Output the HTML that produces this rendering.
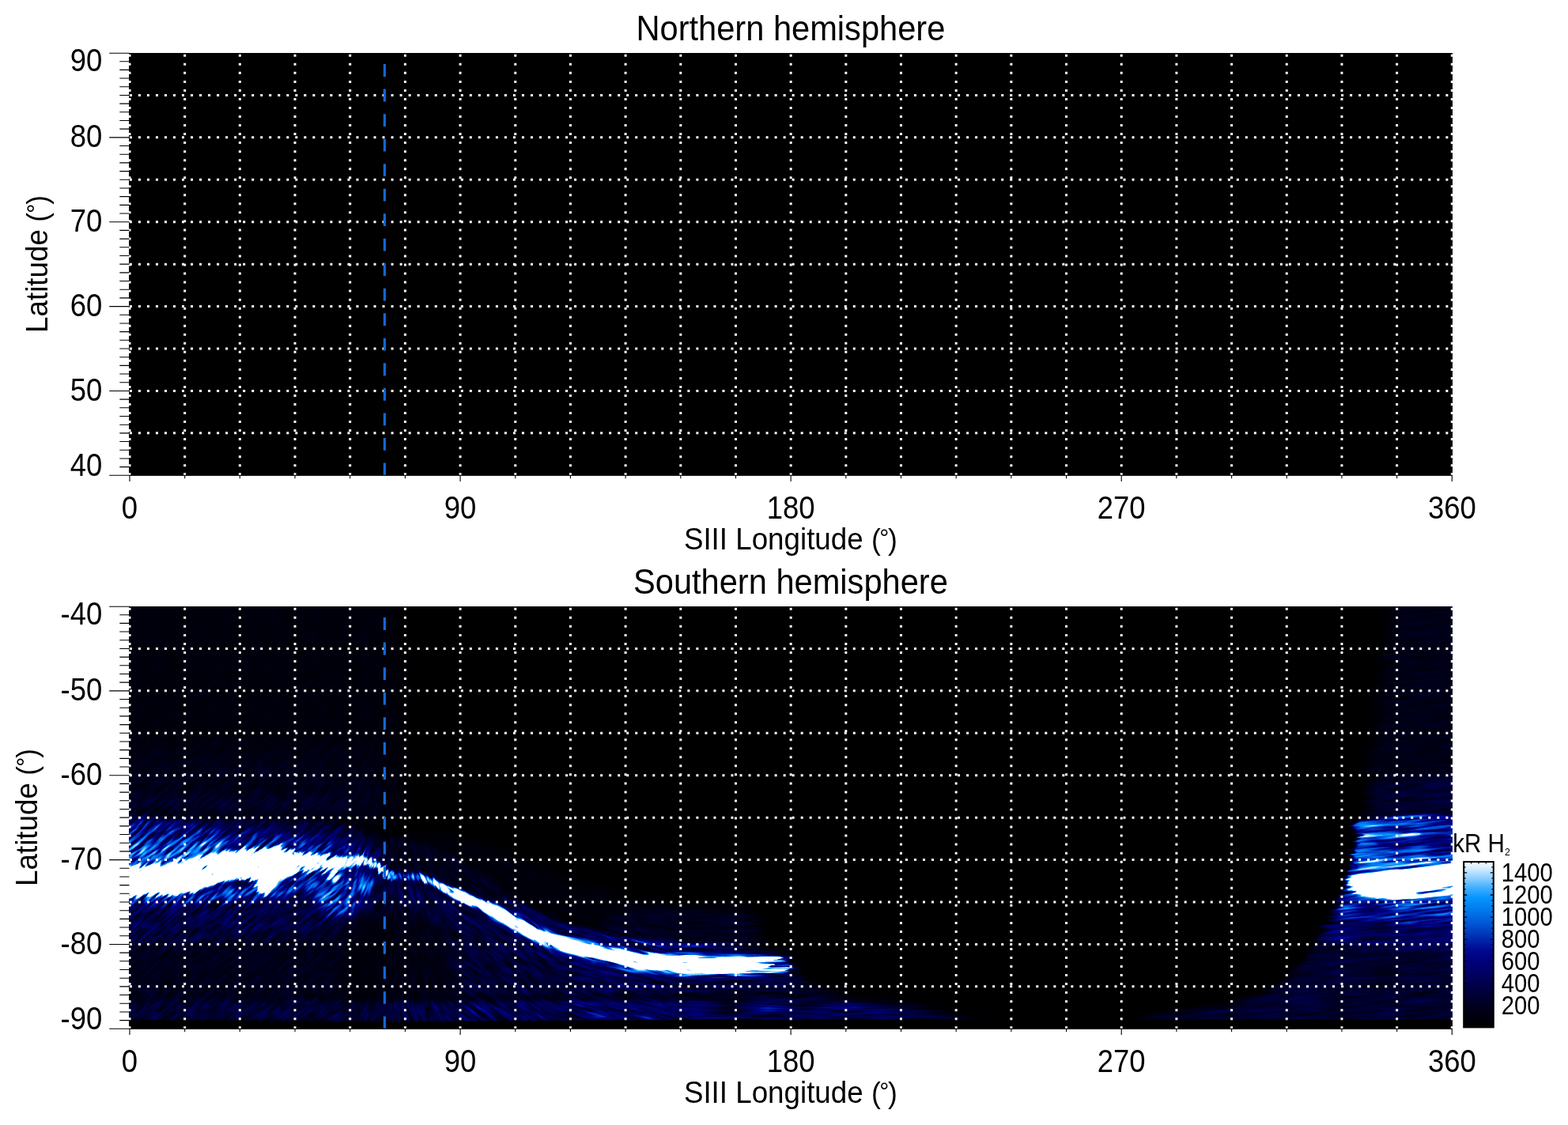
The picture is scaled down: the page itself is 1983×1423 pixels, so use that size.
<!DOCTYPE html>
<html lang="en"><head><meta charset="utf-8"><title>Northern hemisphere / Southern hemisphere</title>
<style>html,body{margin:0;padding:0;background:#fff;}body{width:1983px;height:1423px;overflow:hidden;}svg{display:block;}text{font-family:"Liberation Sans", sans-serif;fill:#000;}</style>
</head><body>
<svg width="1983" height="1423" viewBox="0 0 1983 1423">
<rect x="0" y="0" width="1983" height="1423" fill="#fff"/>
<g id="north">
<rect x="163" y="67.00" width="1674" height="534.50" fill="#000"/>
<path d="M163.9 120.43H1837M163.9 173.86H1837M163.9 227.29H1837M163.9 280.72H1837M163.9 334.15H1837M163.9 387.58H1837M163.9 441.01H1837M163.9 494.44H1837M163.9 547.87H1837" stroke="#fff" stroke-width="3" stroke-dasharray="3 8.023" fill="none"/>
<clipPath id="cp0"><rect x="163" y="67.00" width="1674" height="534.30"/></clipPath>
<path clip-path="url(#cp0)" d="M164.00 68.80V601.30M233.68 68.80V601.30M303.36 68.80V601.30M373.04 68.80V601.30M442.72 68.80V601.30M512.40 68.80V601.30M582.08 68.80V601.30M651.75 68.80V601.30M721.43 68.80V601.30M791.11 68.80V601.30M860.79 68.80V601.30M930.47 68.80V601.30M1000.15 68.80V601.30M1069.83 68.80V601.30M1139.51 68.80V601.30M1209.19 68.80V601.30M1278.87 68.80V601.30M1348.55 68.80V601.30M1418.22 68.80V601.30M1487.90 68.80V601.30M1557.58 68.80V601.30M1627.26 68.80V601.30M1696.94 68.80V601.30M1766.62 68.80V601.30M1836.30 68.80V601.30" stroke="#fff" stroke-width="3" stroke-dasharray="3 8.03" fill="none"/>
<path d="M486.4 81.10V601.30" stroke="#1266d6" stroke-width="3.2" stroke-dasharray="15.8 15.72" fill="none"/>
<path d="M138.2 601.30H1837M138.2 67.30H163.5M151.3 77.69H163.5M151.3 88.37H163.5M151.3 99.06H163.5M151.3 109.74H163.5M151.3 120.43H163.5M151.3 131.12H163.5M151.3 141.80H163.5M151.3 152.49H163.5M151.3 163.17H163.5M138.2 173.86H163.5M151.3 184.55H163.5M151.3 195.23H163.5M151.3 205.92H163.5M151.3 216.60H163.5M151.3 227.29H163.5M151.3 237.98H163.5M151.3 248.66H163.5M151.3 259.35H163.5M151.3 270.03H163.5M138.2 280.72H163.5M151.3 291.41H163.5M151.3 302.09H163.5M151.3 312.78H163.5M151.3 323.46H163.5M151.3 334.15H163.5M151.3 344.84H163.5M151.3 355.52H163.5M151.3 366.21H163.5M151.3 376.89H163.5M138.2 387.58H163.5M151.3 398.27H163.5M151.3 408.95H163.5M151.3 419.64H163.5M151.3 430.32H163.5M151.3 441.01H163.5M151.3 451.70H163.5M151.3 462.38H163.5M151.3 473.07H163.5M151.3 483.75H163.5M138.2 494.44H163.5M151.3 505.13H163.5M151.3 515.81H163.5M151.3 526.50H163.5M151.3 537.18H163.5M151.3 547.87H163.5M151.3 558.56H163.5M151.3 569.24H163.5M151.3 579.93H163.5M151.3 590.61H163.5M164.00 601.30V609.00M233.68 601.30V605.30M303.36 601.30V605.30M373.04 601.30V605.30M442.72 601.30V605.30M512.40 601.30V605.30M582.08 601.30V609.00M651.75 601.30V605.30M721.43 601.30V605.30M791.11 601.30V605.30M860.79 601.30V605.30M930.47 601.30V605.30M1000.15 601.30V609.00M1069.83 601.30V605.30M1139.51 601.30V605.30M1209.19 601.30V605.30M1278.87 601.30V605.30M1348.55 601.30V605.30M1418.22 601.30V609.00M1487.90 601.30V605.30M1557.58 601.30V605.30M1627.26 601.30V605.30M1696.94 601.30V605.30M1766.62 601.30V605.30M1836.30 601.30V609.00" stroke="#000" stroke-width="1.1" fill="none"/>
<text transform="translate(999.90 51.00) scale(0.9525 1)" font-size="43.7" text-anchor="middle">Northern hemisphere</text>
<text transform="translate(129.30 89.60) scale(0.9120 1)" font-size="40.0" text-anchor="end">90</text>
<text transform="translate(129.30 186.46) scale(0.9120 1)" font-size="40.0" text-anchor="end">80</text>
<text transform="translate(129.30 293.32) scale(0.9120 1)" font-size="40.0" text-anchor="end">70</text>
<text transform="translate(129.30 400.18) scale(0.9120 1)" font-size="40.0" text-anchor="end">60</text>
<text transform="translate(129.30 507.04) scale(0.9120 1)" font-size="40.0" text-anchor="end">50</text>
<text transform="translate(129.30 601.50) scale(0.9120 1)" font-size="40.0" text-anchor="end">40</text>
<text transform="translate(164.00 656.30) scale(0.9120 1)" font-size="40.0" text-anchor="middle">0</text>
<text transform="translate(582.08 656.30) scale(0.9120 1)" font-size="40.0" text-anchor="middle">90</text>
<text transform="translate(1000.15 656.30) scale(0.9120 1)" font-size="40.0" text-anchor="middle">180</text>
<text transform="translate(1418.22 656.30) scale(0.9120 1)" font-size="40.0" text-anchor="middle">270</text>
<text transform="translate(1836.30 656.30) scale(0.9120 1)" font-size="40.0" text-anchor="middle">360</text>
<text transform="translate(864.90 695.30) scale(0.9400 1)" font-size="39.1">SIII Longitude <tspan x="252.31" font-size="37.8">(</tspan><tspan x="263.19" dy="-3.9" font-size="32.0">°</tspan><tspan x="274.63" dy="3.9" font-size="37.8">)</tspan></text>
<text transform="translate(60.10 420.90) rotate(-90) scale(0.9400 1)" font-size="39.1">Latitude <tspan x="149.22" font-size="37.8">(</tspan><tspan x="160.85" dy="-3.9" font-size="32.0">°</tspan><tspan x="172.39" dy="3.9" font-size="37.8">)</tspan></text>
</g>
<g id="south">
<rect x="163" y="767.00" width="1674" height="534.50" fill="#000"/>
<defs>
<filter id="cmap" filterUnits="userSpaceOnUse" x="163" y="767" width="1674" height="534.5" color-interpolation-filters="sRGB">
<feComponentTransfer><feFuncR type="table" tableValues="0 0 0 0 0 0 0 0 0 0 0 0 0 0 0 0 0.04 0.29 0.55 0.78 1"/><feFuncG type="table" tableValues="0 0 0 0 0 0 0 0 0 0.03 0.11 0.19 0.28 0.37 0.46 0.54 0.6 0.7 0.81 0.91 1"/><feFuncB type="table" tableValues="0 0.05 0.094 0.15 0.21 0.28 0.35 0.42 0.49 0.56 0.64 0.72 0.8 0.88 0.94 0.98 1 1 1 1 1"/></feComponentTransfer>
</filter>
<clipPath id="cpA"><rect x="163" y="767" width="1674" height="534.5"/></clipPath>
<filter id="q1" filterUnits="userSpaceOnUse" x="118" y="728" width="429" height="338" color-interpolation-filters="sRGB"><feGaussianBlur stdDeviation="10"/></filter>
<filter id="q2" filterUnits="userSpaceOnUse" x="106" y="906" width="433" height="174" color-interpolation-filters="sRGB"><feGaussianBlur stdDeviation="14"/></filter>
<filter id="q3" filterUnits="userSpaceOnUse" x="124" y="979" width="387" height="83" color-interpolation-filters="sRGB"><feGaussianBlur stdDeviation="8"/></filter>
<filter id="q4" filterUnits="userSpaceOnUse" x="1702" y="734" width="174" height="326" color-interpolation-filters="sRGB"><feGaussianBlur stdDeviation="8"/></filter>
<filter id="q5" filterUnits="userSpaceOnUse" x="1706" y="960" width="164" height="94" color-interpolation-filters="sRGB"><feGaussianBlur stdDeviation="6"/></filter>
<filter id="q6" filterUnits="userSpaceOnUse" x="73" y="991" width="1306" height="344" color-interpolation-filters="sRGB"><feGaussianBlur stdDeviation="3"/></filter>
<filter id="q7" filterUnits="userSpaceOnUse" x="104" y="1084" width="465" height="140" color-interpolation-filters="sRGB"><feGaussianBlur stdDeviation="8"/></filter>
<filter id="q8" filterUnits="userSpaceOnUse" x="400" y="1071" width="945" height="268" color-interpolation-filters="sRGB"><feGaussianBlur stdDeviation="8"/></filter>
<filter id="q9" filterUnits="userSpaceOnUse" x="535" y="1112" width="510" height="161" color-interpolation-filters="sRGB"><feGaussianBlur stdDeviation="5"/></filter>
<filter id="q10" filterUnits="userSpaceOnUse" x="740" y="1123" width="252" height="104" color-interpolation-filters="sRGB"><feGaussianBlur stdDeviation="6"/></filter>
<filter id="q11" filterUnits="userSpaceOnUse" x="661" y="1211" width="642" height="100" color-interpolation-filters="sRGB"><feGaussianBlur stdDeviation="4"/></filter>
<filter id="qv" filterUnits="userSpaceOnUse" x="380" y="1090" width="250" height="220" color-interpolation-filters="sRGB"><feGaussianBlur stdDeviation="12"/></filter>
<filter id="qe" filterUnits="userSpaceOnUse" x="380" y="1240" width="740" height="40" color-interpolation-filters="sRGB"><feGaussianBlur stdDeviation="2.5"/></filter>
<filter id="q12" filterUnits="userSpaceOnUse" x="142" y="1258" width="1091" height="40" color-interpolation-filters="sRGB"><feGaussianBlur stdDeviation="2"/></filter>
<filter id="q13" filterUnits="userSpaceOnUse" x="474" y="1029" width="515" height="202" color-interpolation-filters="sRGB"><feGaussianBlur stdDeviation="8"/></filter>
<filter id="q14" filterUnits="userSpaceOnUse" x="625" y="1125" width="324" height="85" color-interpolation-filters="sRGB"><feGaussianBlur stdDeviation="2.5"/></filter>
<filter id="q15" filterUnits="userSpaceOnUse" x="1374" y="1098" width="541" height="225" color-interpolation-filters="sRGB"><feGaussianBlur stdDeviation="3"/></filter>
<filter id="q16" filterUnits="userSpaceOnUse" x="1634" y="1112" width="259" height="115" color-interpolation-filters="sRGB"><feGaussianBlur stdDeviation="6"/></filter>
<filter id="q17" filterUnits="userSpaceOnUse" x="1665" y="1118" width="219" height="66" color-interpolation-filters="sRGB"><feGaussianBlur stdDeviation="4"/></filter>
<filter id="q18" filterUnits="userSpaceOnUse" x="122" y="1020" width="378" height="101" color-interpolation-filters="sRGB"><feGaussianBlur stdDeviation="2"/></filter>
<filter id="q19" filterUnits="userSpaceOnUse" x="113" y="1034" width="383" height="90" color-interpolation-filters="sRGB"><feGaussianBlur stdDeviation="5"/></filter>
<filter id="q20" filterUnits="userSpaceOnUse" x="120" y="1016" width="191" height="106" color-interpolation-filters="sRGB"><feGaussianBlur stdDeviation="5"/></filter>
<filter id="q21" filterUnits="userSpaceOnUse" x="123" y="1084" width="370" height="91" color-interpolation-filters="sRGB"><feGaussianBlur stdDeviation="4"/></filter>
<filter id="q22" filterUnits="userSpaceOnUse" x="1685" y="1016" width="189" height="151" color-interpolation-filters="sRGB"><feGaussianBlur stdDeviation="1.5"/></filter>
<filter id="q23" filterUnits="userSpaceOnUse" x="1716" y="1030" width="141" height="23" color-interpolation-filters="sRGB"><feGaussianBlur stdDeviation="1.5"/></filter>
<filter id="q24" filterUnits="userSpaceOnUse" x="1712" y="1046" width="90" height="21" color-interpolation-filters="sRGB"><feGaussianBlur stdDeviation="1.5"/></filter>
<filter id="q25" filterUnits="userSpaceOnUse" x="1706" y="1069" width="61" height="18" color-interpolation-filters="sRGB"><feGaussianBlur stdDeviation="1.5"/></filter>
<filter id="q26" filterUnits="userSpaceOnUse" x="1710" y="1076" width="147" height="32" color-interpolation-filters="sRGB"><feGaussianBlur stdDeviation="1.5"/></filter>
<filter id="qd" filterUnits="userSpaceOnUse" x="1700" y="1040" width="160" height="50" color-interpolation-filters="sRGB"><feGaussianBlur stdDeviation="1.5"/></filter>
<filter id="q27" filterUnits="userSpaceOnUse" x="447" y="1076" width="59" height="44" color-interpolation-filters="sRGB"><feGaussianBlur stdDeviation="1.5"/></filter>
<filter id="q28" filterUnits="userSpaceOnUse" x="488" y="1096" width="53" height="27" color-interpolation-filters="sRGB"><feGaussianBlur stdDeviation="2"/></filter>
<filter id="q29" filterUnits="userSpaceOnUse" x="522" y="1098" width="51" height="39" color-interpolation-filters="sRGB"><feGaussianBlur stdDeviation="1.5"/></filter>
<filter id="q30" filterUnits="userSpaceOnUse" x="334" y="1060" width="140" height="78" color-interpolation-filters="sRGB"><feGaussianBlur stdDeviation="2"/></filter>
<filter id="q31" filterUnits="userSpaceOnUse" x="134" y="1064" width="267" height="78" color-interpolation-filters="sRGB"><feGaussianBlur stdDeviation="2.5"/></filter>
<filter id="q32" filterUnits="userSpaceOnUse" x="369" y="1073" width="92" height="36" color-interpolation-filters="sRGB"><feGaussianBlur stdDeviation="2"/></filter>
<filter id="q33" filterUnits="userSpaceOnUse" x="638" y="1136" width="376" height="116" color-interpolation-filters="sRGB"><feGaussianBlur stdDeviation="3"/></filter>
<filter id="q34" filterUnits="userSpaceOnUse" x="608" y="1130" width="399" height="115" color-interpolation-filters="sRGB"><feGaussianBlur stdDeviation="2"/></filter>
<filter id="q35" filterUnits="userSpaceOnUse" x="546" y="1112" width="402" height="126" color-interpolation-filters="sRGB"><feGaussianBlur stdDeviation="2"/></filter>
<filter id="q36" filterUnits="userSpaceOnUse" x="930" y="1206" width="58" height="18" color-interpolation-filters="sRGB"><feGaussianBlur stdDeviation="1"/></filter>
<filter id="q37" filterUnits="userSpaceOnUse" x="930" y="1213" width="52" height="20" color-interpolation-filters="sRGB"><feGaussianBlur stdDeviation="1"/></filter>
<filter id="q38" filterUnits="userSpaceOnUse" x="928" y="1220" width="75" height="16" color-interpolation-filters="sRGB"><feGaussianBlur stdDeviation="1"/></filter>
<filter id="q39" filterUnits="userSpaceOnUse" x="1698" y="1083" width="166" height="62" color-interpolation-filters="sRGB"><feGaussianBlur stdDeviation="2.5"/></filter>
<filter id="q40" filterUnits="userSpaceOnUse" x="1780" y="1111" width="75" height="29" color-interpolation-filters="sRGB"><feGaussianBlur stdDeviation="1.2"/></filter>
<g id="field">
<rect x="83" y="687" width="1834" height="694.5" fill="#000"/>
<path d="M150.0 760.0L500.0 760.0L515.0 1034.0L150.0 1034.0Z" fill="rgb(3,3,3)" filter="url(#q1)"/>
<path d="M150.0 950.0L470.0 950.0L495.0 1036.0L150.0 1036.0Z" fill="#fff" fill-opacity="0.010" filter="url(#q2)"/>
<path d="M150.0 1005.0L440.0 1005.0L485.0 1036.0L150.0 1036.0Z" fill="#fff" fill-opacity="0.010" filter="url(#q3)"/>
<path d="M1762.0 760.0L1850.0 760.0L1850.0 1034.0L1728.0 1034.0Z" fill="rgb(6,6,6)" filter="url(#q4)"/>
<path d="M1735.0 990.0L1850.0 980.0L1850.0 1034.0L1726.0 1034.0Z" fill="#fff" fill-opacity="0.020" filter="url(#q5)"/>
<path d="M150.0 1036.0C174.0 1002.1 294.0 1035.5 330.0 1036.0C366.0 1036.5 397.3 1037.1 420.0 1040.0C442.7 1042.9 481.3 1052.9 500.0 1058.0C518.7 1063.1 545.3 1071.7 560.0 1078.0C574.7 1084.3 596.7 1096.7 610.0 1105.0C623.3 1113.3 645.3 1131.6 660.0 1140.0C674.7 1148.4 701.3 1162.1 720.0 1168.0C738.7 1173.9 776.0 1180.8 800.0 1184.0C824.0 1187.2 880.0 1190.4 900.0 1192.0C920.0 1193.6 938.7 1194.1 950.0 1196.0C961.3 1197.9 976.7 1202.0 985.0 1206.0C993.3 1210.0 1007.1 1221.1 1012.0 1226.0C1016.9 1230.9 1015.6 1239.0 1022.0 1243.0C1028.4 1247.0 1045.6 1252.7 1060.0 1256.0C1074.4 1259.3 1112.7 1264.9 1130.0 1268.0C1147.3 1271.1 1177.3 1276.5 1190.0 1279.0C1202.7 1281.5 1220.3 1285.5 1225.0 1287.0C1229.7 1288.5 1368.3 1289.6 1225.0 1290.0C1081.7 1290.4 293.3 1323.9 150.0 1290.0C6.7 1256.1 126.0 1069.9 150.0 1036.0Z" fill="rgb(7,7,7)" filter="url(#q6)"/>
<path d="M150.0 1128.0C170.0 1118.7 264.0 1122.4 300.0 1120.0C336.0 1117.6 393.3 1110.5 420.0 1110.0C446.7 1109.5 484.0 1113.3 500.0 1116.0C516.0 1118.7 537.3 1124.1 540.0 1130.0C542.7 1135.9 536.0 1154.0 520.0 1160.0C504.0 1166.0 449.3 1171.7 420.0 1175.0C390.7 1178.3 336.0 1183.0 300.0 1185.0C264.0 1187.0 170.0 1197.6 150.0 1190.0C130.0 1182.4 130.0 1137.3 150.0 1128.0Z" fill="#fff" fill-opacity="0.033" filter="url(#q7)"/>
<path d="M520.0 1118.0C525.3 1097.3 546.7 1128.7 560.0 1135.0C573.3 1141.3 601.3 1155.7 620.0 1165.0C638.7 1174.3 676.0 1196.1 700.0 1205.0C724.0 1213.9 773.3 1227.3 800.0 1232.0C826.7 1236.7 873.3 1238.9 900.0 1240.0C926.7 1241.1 982.7 1238.7 1000.0 1240.0C1017.3 1241.3 1016.7 1246.8 1030.0 1250.0C1043.3 1253.2 1074.0 1258.9 1100.0 1264.0C1126.0 1269.1 1208.3 1284.5 1225.0 1288.0C1241.7 1291.5 1319.0 1289.7 1225.0 1290.0C1131.0 1290.3 614.0 1312.9 520.0 1290.0C426.0 1267.1 514.7 1138.7 520.0 1118.0Z" fill="#fff" fill-opacity="0.018" filter="url(#q8)"/>
<path d="M560.0 1130.0C568.0 1130.5 601.3 1150.7 620.0 1160.0C638.7 1169.3 676.0 1190.9 700.0 1200.0C724.0 1209.1 773.3 1223.2 800.0 1228.0C826.7 1232.8 873.3 1234.9 900.0 1236.0C926.7 1237.1 984.7 1233.9 1000.0 1236.0C1015.3 1238.1 1028.3 1249.3 1015.0 1252.0C1001.7 1254.7 928.7 1256.3 900.0 1256.0C871.3 1255.7 826.7 1254.0 800.0 1250.0C773.3 1246.0 724.0 1234.3 700.0 1226.0C676.0 1217.7 638.7 1197.3 620.0 1188.0C601.3 1178.7 568.0 1163.7 560.0 1156.0C552.0 1148.3 552.0 1129.5 560.0 1130.0Z" fill="#fff" fill-opacity="0.013" filter="url(#q9)"/>
<path d="M760.0 1170.0C760.0 1164.7 784.0 1153.2 800.0 1150.0C816.0 1146.8 860.0 1146.0 880.0 1146.0C900.0 1146.0 938.7 1142.8 950.0 1150.0C961.3 1157.2 971.7 1193.3 965.0 1200.0C958.3 1206.7 922.0 1201.3 900.0 1200.0C878.0 1198.7 818.7 1194.0 800.0 1190.0C781.3 1186.0 760.0 1175.3 760.0 1170.0Z" fill="#fff" fill-opacity="0.020" filter="url(#q10)"/>
<path d="M740.0 1232.0C748.0 1225.3 778.7 1238.1 800.0 1240.0C821.3 1241.9 872.0 1245.2 900.0 1246.0C928.0 1246.8 990.0 1244.7 1010.0 1246.0C1030.0 1247.3 1035.3 1253.1 1050.0 1256.0C1064.7 1258.9 1096.7 1263.7 1120.0 1268.0C1143.3 1272.3 1211.0 1285.1 1225.0 1288.0C1239.0 1290.9 1289.7 1289.7 1225.0 1290.0C1160.3 1290.3 804.7 1297.7 740.0 1290.0C675.3 1282.3 732.0 1238.7 740.0 1232.0Z" fill="#fff" fill-opacity="0.013" filter="url(#q11)"/>
<path d="M452.0 1160.0C460.5 1150.7 487.6 1140.0 500.0 1140.0C512.4 1140.0 535.7 1150.7 545.0 1160.0C554.3 1169.3 566.0 1196.4 570.0 1210.0C574.0 1223.6 592.3 1255.1 575.0 1262.0C557.7 1268.9 458.5 1268.9 440.0 1262.0C421.5 1255.1 434.4 1223.6 436.0 1210.0C437.6 1196.4 443.5 1169.3 452.0 1160.0Z" fill="#000" fill-opacity="0.6" filter="url(#qv)"/>
<path d="M400.0 1259.0C440.0 1258.1 620.0 1258.7 700.0 1258.0C780.0 1257.3 946.7 1253.5 1000.0 1254.0C1053.3 1254.5 1086.7 1260.4 1100.0 1262.0C1113.3 1263.6 1113.3 1266.0 1100.0 1266.0C1086.7 1266.0 1053.3 1262.0 1000.0 1262.0C946.7 1262.0 780.0 1265.6 700.0 1266.0C620.0 1266.4 440.0 1265.9 400.0 1265.0C360.0 1264.1 360.0 1259.9 400.0 1259.0Z" fill="#000" fill-opacity="0.45" filter="url(#qe)"/>
<path d="M150.0 1266.0L1090.0 1268.0L1225.0 1288.0L1225.0 1290.0L150.0 1290.0Z" fill="#fff" fill-opacity="0.020" filter="url(#q12)"/>
<path d="M500.0 1062.0C500.0 1065.2 544.0 1073.3 560.0 1080.0C576.0 1086.7 604.0 1102.7 620.0 1112.0C636.0 1121.3 661.3 1140.9 680.0 1150.0C698.7 1159.1 736.0 1173.9 760.0 1180.0C784.0 1186.1 834.7 1193.3 860.0 1196.0C885.3 1198.7 937.3 1204.8 950.0 1200.0C962.7 1195.2 961.7 1166.7 955.0 1160.0C948.3 1153.3 918.0 1152.7 900.0 1150.0C882.0 1147.3 841.3 1144.0 820.0 1140.0C798.7 1136.0 758.7 1126.0 740.0 1120.0C721.3 1114.0 696.0 1101.7 680.0 1095.0C664.0 1088.3 636.0 1075.2 620.0 1070.0C604.0 1064.8 576.0 1057.1 560.0 1056.0C544.0 1054.9 500.0 1058.8 500.0 1062.0Z" fill="#fff" fill-opacity="0.013" filter="url(#q13)"/>
<path d="M640.0 1136.0C645.3 1137.9 669.3 1151.3 680.0 1156.0C690.7 1160.7 709.3 1167.7 720.0 1171.0C730.7 1174.3 749.3 1178.8 760.0 1181.0C770.7 1183.2 786.7 1186.0 800.0 1187.5C813.3 1189.0 842.7 1191.1 860.0 1192.0C877.3 1192.9 920.7 1192.9 930.0 1194.0C939.3 1195.1 939.3 1199.5 930.0 1200.0C920.7 1200.5 877.3 1198.9 860.0 1198.0C842.7 1197.1 813.3 1195.0 800.0 1193.5C786.7 1192.0 770.7 1189.2 760.0 1187.0C749.3 1184.8 730.7 1180.3 720.0 1177.0C709.3 1173.7 690.7 1166.7 680.0 1162.0C669.3 1157.3 645.3 1145.5 640.0 1142.0C634.7 1138.5 634.7 1134.1 640.0 1136.0Z" fill="#fff" fill-opacity="0.055" filter="url(#q14)"/>
<path d="M1850.0 1130.0C1830.3 1108.7 1723.3 1127.3 1702.0 1130.0C1680.7 1132.7 1693.7 1143.3 1690.0 1150.0C1686.3 1156.7 1679.1 1171.7 1674.0 1180.0C1668.9 1188.3 1657.9 1204.5 1652.0 1212.0C1646.1 1219.5 1637.5 1229.9 1630.0 1236.0C1622.5 1242.1 1608.0 1253.2 1596.0 1258.0C1584.0 1262.8 1555.5 1268.9 1540.0 1272.0C1524.5 1275.1 1493.3 1278.7 1480.0 1281.0C1466.7 1283.3 1445.3 1287.8 1440.0 1289.0C1434.7 1290.2 1385.3 1289.9 1440.0 1290.0C1494.7 1290.1 1795.3 1311.3 1850.0 1290.0C1904.7 1268.7 1869.7 1151.3 1850.0 1130.0Z" fill="rgb(11,11,11)" filter="url(#q15)"/>
<path d="M1850.0 1140.0C1830.0 1132.0 1721.9 1137.1 1700.0 1140.0C1678.1 1142.9 1689.2 1155.3 1686.0 1162.0C1682.8 1168.7 1654.1 1184.9 1676.0 1190.0C1697.9 1195.1 1826.8 1206.7 1850.0 1200.0C1873.2 1193.3 1870.0 1148.0 1850.0 1140.0Z" fill="#fff" fill-opacity="0.033" filter="url(#q16)"/>
<path d="M1850.0 1136.0C1830.0 1132.0 1720.7 1134.1 1700.0 1136.0C1679.3 1137.9 1694.7 1146.5 1695.0 1150.0C1695.3 1153.5 1681.3 1159.9 1702.0 1162.0C1722.7 1164.1 1830.3 1169.5 1850.0 1166.0C1869.7 1162.5 1870.0 1140.0 1850.0 1136.0Z" fill="#fff" fill-opacity="0.055" filter="url(#q17)"/>
<path d="M150.0 1037.0C163.3 1027.9 226.0 1036.9 250.0 1037.0C274.0 1037.1 310.0 1037.3 330.0 1038.0C350.0 1038.7 384.0 1040.1 400.0 1042.0C416.0 1043.9 439.6 1048.5 450.0 1052.0C460.4 1055.5 472.4 1063.2 478.0 1068.0C483.6 1072.8 491.7 1083.7 492.0 1088.0C492.3 1092.3 489.6 1099.1 480.0 1100.0C470.4 1100.9 444.0 1095.7 420.0 1095.0C396.0 1094.3 336.0 1093.7 300.0 1095.0C264.0 1096.3 170.0 1112.7 150.0 1105.0C130.0 1097.3 136.7 1046.1 150.0 1037.0Z" fill="rgb(14,14,14)" filter="url(#q18)"/>
<path d="M150.0 1070.0C160.7 1064.5 210.0 1066.1 230.0 1064.0C250.0 1061.9 284.0 1055.6 300.0 1054.0C316.0 1052.4 336.7 1051.5 350.0 1052.0C363.3 1052.5 388.0 1056.1 400.0 1058.0C412.0 1059.9 430.7 1063.1 440.0 1066.0C449.3 1068.9 466.0 1076.1 470.0 1080.0C474.0 1083.9 479.3 1093.0 470.0 1095.0C460.7 1097.0 422.7 1095.7 400.0 1095.0C377.3 1094.3 333.3 1088.7 300.0 1090.0C266.7 1091.3 170.0 1107.7 150.0 1105.0C130.0 1102.3 139.3 1075.5 150.0 1070.0Z" fill="#fff" fill-opacity="0.050" filter="url(#q19)"/>
<path d="M150.0 1040.0C160.7 1032.5 212.7 1040.7 230.0 1042.0C247.3 1043.3 272.0 1046.3 280.0 1050.0C288.0 1053.7 294.0 1064.7 290.0 1070.0C286.0 1075.3 268.7 1086.3 250.0 1090.0C231.3 1093.7 163.3 1104.7 150.0 1098.0C136.7 1091.3 139.3 1047.5 150.0 1040.0Z" fill="#fff" fill-opacity="0.050" filter="url(#q20)"/>
<path d="M150.0 1126.0C162.0 1123.9 216.0 1129.6 240.0 1128.0C264.0 1126.4 311.3 1117.2 330.0 1114.0C348.7 1110.8 365.3 1106.1 380.0 1104.0C394.7 1101.9 428.0 1098.5 440.0 1098.0C452.0 1097.5 464.9 1098.1 470.0 1100.0C475.1 1101.9 479.1 1106.9 478.0 1112.0C476.9 1117.1 466.8 1131.9 462.0 1138.0C457.2 1144.1 448.7 1155.6 442.0 1158.0C435.3 1160.4 419.2 1159.7 412.0 1156.0C404.8 1152.3 397.6 1132.7 388.0 1130.0C378.4 1127.3 358.4 1134.4 340.0 1136.0C321.6 1137.6 275.3 1140.9 250.0 1142.0C224.7 1143.1 163.3 1146.1 150.0 1144.0C136.7 1141.9 138.0 1128.1 150.0 1126.0Z" fill="#fff" fill-opacity="0.075" filter="url(#q21)"/>
<path d="M1850.0 1037.0C1832.9 1022.5 1739.9 1033.7 1722.0 1037.0C1704.1 1040.3 1717.5 1055.6 1716.0 1062.0C1714.5 1068.4 1712.5 1079.3 1711.0 1085.0C1709.5 1090.7 1706.5 1099.7 1705.0 1105.0C1703.5 1110.3 1701.5 1120.3 1700.0 1125.0C1698.5 1129.7 1691.3 1137.2 1694.0 1140.0C1696.7 1142.8 1708.5 1144.9 1720.0 1146.0C1731.5 1147.1 1762.7 1148.0 1780.0 1148.0C1797.3 1148.0 1840.7 1160.8 1850.0 1146.0C1859.3 1131.2 1867.1 1051.5 1850.0 1037.0Z" fill="rgb(32,32,32)" filter="url(#q22)"/>
<path d="M1722.0 1043.0L1850.0 1036.6L1850.0 1040.6L1722.0 1047.0Z" fill="#fff" fill-opacity="0.030" filter="url(#q23)"/>
<path d="M1718.0 1056.0L1795.0 1052.2L1795.0 1056.7L1718.0 1060.5Z" fill="#fff" fill-opacity="0.090" filter="url(#q24)"/>
<path d="M1740.0 1066.0L1850.0 1060.5L1850.0 1064.5L1740.0 1070.0Z" fill="#000" fill-opacity="0.40" filter="url(#qd)"/>
<path d="M1712.0 1078.0L1760.0 1075.6L1760.0 1078.6L1712.0 1081.0Z" fill="#fff" fill-opacity="0.075" filter="url(#q25)"/>
<path d="M1716.0 1089.0L1850.0 1082.3L1850.0 1094.3L1716.0 1101.0Z" fill="#fff" fill-opacity="0.065" filter="url(#q26)"/>
<path d="M456.0 1083.5C458.1 1082.9 468.3 1086.3 472.0 1088.0C475.7 1089.7 480.5 1094.3 484.0 1096.5C487.5 1098.7 496.1 1102.2 498.0 1104.5C499.9 1106.8 499.9 1113.3 498.0 1113.5C496.1 1113.7 487.5 1108.1 484.0 1106.0C480.5 1103.9 475.7 1099.3 472.0 1097.5C468.3 1095.7 458.1 1094.4 456.0 1092.5C453.9 1090.6 453.9 1084.1 456.0 1083.5Z" fill="rgb(89,89,89)" filter="url(#q27)"/>
<path d="M498.0 1104.5C500.1 1103.5 509.6 1104.9 514.0 1105.0C518.4 1105.1 528.7 1103.9 531.0 1105.0C533.3 1106.1 533.3 1111.9 531.0 1113.0C528.7 1114.1 518.4 1113.1 514.0 1113.0C509.6 1112.9 500.1 1113.6 498.0 1112.5C495.9 1111.4 495.9 1105.5 498.0 1104.5Z" fill="rgb(38,38,38)" filter="url(#q28)"/>
<path d="M530.0 1105.0C531.6 1104.5 538.9 1108.2 542.0 1109.5C545.1 1110.8 549.9 1113.5 553.0 1115.0C556.1 1116.5 563.4 1119.0 565.0 1121.0C566.6 1123.0 566.6 1129.7 565.0 1130.0C563.4 1130.3 556.1 1125.1 553.0 1123.5C549.9 1121.9 545.1 1119.4 542.0 1118.0C538.9 1116.6 531.6 1114.7 530.0 1113.0C528.4 1111.3 528.4 1105.5 530.0 1105.0Z" fill="rgb(70,70,70)" filter="url(#q29)"/>
<path d="M349.1 1073.8C351.7 1067.5 358.0 1075.9 361.2 1076.6C364.4 1077.3 369.6 1078.3 373.0 1079.0C376.4 1079.7 383.1 1081.0 387.0 1081.5C390.9 1082.0 398.1 1082.7 402.0 1083.0C405.9 1083.3 411.3 1083.7 416.2 1084.0C421.1 1084.3 433.4 1085.5 438.7 1085.5C444.0 1085.5 452.1 1083.9 455.6 1084.0C459.1 1084.1 463.4 1085.7 464.6 1086.3C465.8 1086.9 465.8 1087.8 464.6 1088.5C463.4 1089.2 459.1 1090.5 455.6 1091.5C452.1 1092.5 442.2 1094.8 438.7 1095.7C435.2 1096.6 431.5 1095.3 429.7 1098.0C427.9 1100.7 426.7 1113.7 425.2 1116.0C423.7 1118.3 420.4 1117.3 418.5 1115.0C416.6 1112.7 413.9 1100.8 410.6 1099.0C407.3 1097.2 398.7 1101.0 393.7 1101.4C388.7 1101.8 377.3 1101.3 373.0 1102.0C368.7 1102.7 364.4 1104.7 361.2 1106.4C358.0 1108.1 351.7 1112.2 349.1 1114.5C346.5 1116.8 341.5 1129.0 341.5 1123.6C341.5 1118.2 346.5 1080.1 349.1 1073.8Z" fill="rgb(92,92,92)" filter="url(#q30)"/>
<path d="M150.0 1100.5C156.4 1096.2 188.4 1098.0 197.8 1097.1C207.2 1096.2 215.7 1094.7 220.5 1093.8C225.3 1092.9 229.7 1090.9 233.7 1090.0C237.7 1089.1 246.5 1087.8 250.8 1087.0C255.1 1086.2 260.9 1084.9 265.9 1084.0C270.9 1083.1 283.6 1081.1 288.6 1080.2C293.6 1079.3 299.3 1078.1 303.3 1077.4C307.3 1076.7 314.8 1075.7 318.9 1075.3C323.0 1074.9 330.0 1074.2 334.0 1074.1C338.0 1074.0 345.5 1074.3 349.1 1074.8C352.7 1075.3 358.0 1076.9 361.2 1077.6C364.4 1078.3 368.9 1078.3 373.0 1080.0C377.1 1081.7 392.0 1087.2 392.0 1090.0C392.0 1092.8 377.1 1098.9 373.0 1101.0C368.9 1103.1 364.4 1103.7 361.2 1105.4C358.0 1107.1 351.7 1111.2 349.1 1113.5C346.5 1115.8 343.1 1120.4 341.5 1122.6C339.9 1124.8 338.4 1129.4 337.0 1130.0C335.6 1130.6 332.8 1129.4 331.0 1127.0C329.2 1124.6 326.0 1114.3 323.4 1112.0C320.8 1109.7 314.9 1109.9 311.3 1109.7C307.7 1109.5 300.2 1109.9 296.2 1110.5C292.2 1111.1 285.0 1113.3 281.0 1114.5C277.0 1115.7 269.9 1118.2 265.9 1119.5C261.9 1120.8 255.1 1122.9 250.8 1124.0C246.5 1125.1 239.8 1127.1 233.7 1127.8C227.6 1128.5 212.2 1129.3 205.4 1129.6C198.6 1129.9 190.1 1130.0 182.7 1130.0C175.3 1130.0 154.4 1133.4 150.0 1129.5C145.6 1125.6 143.6 1104.8 150.0 1100.5Z" fill="rgb(255,255,255)" filter="url(#q31)"/>
<path d="M380.0 1083.0C382.7 1081.1 394.7 1084.1 400.0 1084.5C405.3 1084.9 414.7 1085.7 420.0 1086.0C425.3 1086.3 435.7 1086.8 440.0 1087.0C444.3 1087.2 450.4 1086.9 452.0 1087.5C453.6 1088.1 453.6 1090.5 452.0 1091.5C450.4 1092.5 444.3 1094.3 440.0 1095.0C435.7 1095.7 425.3 1096.6 420.0 1097.0C414.7 1097.4 405.3 1097.7 400.0 1098.0C394.7 1098.3 382.7 1101.0 380.0 1099.0C377.3 1097.0 377.3 1084.9 380.0 1083.0Z" fill="rgb(140,140,140)" filter="url(#q32)"/>
<path d="M651.6 1150.5C654.2 1147.5 665.9 1158.0 671.1 1160.5C676.3 1163.0 685.6 1167.4 690.8 1169.5C696.0 1171.6 706.3 1174.7 710.4 1176.0C714.5 1177.3 716.1 1177.6 721.4 1179.0C726.7 1180.4 743.4 1185.0 749.8 1186.5C756.2 1188.0 763.9 1189.2 769.4 1190.2C774.9 1191.2 784.4 1193.3 791.1 1194.2C797.8 1195.1 810.0 1195.9 819.3 1196.6C828.6 1197.3 850.1 1198.6 860.6 1199.2C871.1 1199.8 888.7 1200.9 898.0 1201.3C907.3 1201.7 923.6 1201.8 930.5 1202.0C937.4 1202.2 944.1 1202.5 950.0 1202.6C955.9 1202.7 968.3 1202.3 975.0 1203.0C981.7 1203.7 996.7 1203.3 1000.0 1208.0C1003.3 1212.7 1003.3 1234.0 1000.0 1238.0C996.7 1242.0 981.7 1237.7 975.0 1238.0C968.3 1238.3 955.9 1239.5 950.0 1240.0C944.1 1240.5 937.4 1241.4 930.5 1241.6C923.6 1241.8 907.3 1241.4 898.0 1241.2C888.7 1241.0 871.1 1240.5 860.6 1239.8C850.1 1239.1 828.6 1236.6 819.3 1235.6C810.0 1234.6 797.8 1233.3 791.1 1232.0C784.4 1230.7 774.9 1227.6 769.4 1226.2C763.9 1224.8 756.2 1223.2 749.8 1221.5C743.4 1219.8 726.7 1214.8 721.4 1213.3C716.1 1211.8 714.5 1211.7 710.4 1210.4C706.3 1209.1 696.0 1205.6 690.8 1203.5C685.6 1201.4 676.3 1197.2 671.1 1194.5C665.9 1191.8 654.2 1189.2 651.6 1183.3C649.0 1177.4 649.0 1153.5 651.6 1150.5Z" fill="#fff" fill-opacity="0.040" filter="url(#q33)"/>
<path d="M618.7 1139.5C621.3 1138.0 633.9 1146.9 638.3 1149.0C642.7 1151.1 647.2 1153.3 651.6 1155.5C656.0 1157.7 665.9 1163.0 671.1 1165.5C676.3 1168.0 685.6 1172.4 690.8 1174.5C696.0 1176.6 706.3 1179.7 710.4 1181.0C714.5 1182.3 716.1 1182.6 721.4 1184.0C726.7 1185.4 743.4 1190.0 749.8 1191.5C756.2 1193.0 763.9 1194.2 769.4 1195.2C774.9 1196.2 784.4 1198.3 791.1 1199.2C797.8 1200.1 810.0 1200.9 819.3 1201.6C828.6 1202.3 850.1 1203.6 860.6 1204.2C871.1 1204.8 888.7 1205.9 898.0 1206.3C907.3 1206.7 923.6 1206.8 930.5 1207.0C937.4 1207.2 944.1 1207.5 950.0 1207.6C955.9 1207.7 968.9 1207.4 975.0 1208.0C981.1 1208.6 993.2 1208.8 996.0 1212.0C998.8 1215.2 998.8 1229.2 996.0 1232.0C993.2 1234.8 981.1 1232.6 975.0 1233.0C968.9 1233.4 955.9 1234.5 950.0 1235.0C944.1 1235.5 937.4 1236.4 930.5 1236.6C923.6 1236.8 907.3 1236.4 898.0 1236.2C888.7 1236.0 871.1 1235.5 860.6 1234.8C850.1 1234.1 828.6 1231.6 819.3 1230.6C810.0 1229.6 797.8 1228.3 791.1 1227.0C784.4 1225.7 774.9 1222.6 769.4 1221.2C763.9 1219.8 756.2 1218.2 749.8 1216.5C743.4 1214.8 726.7 1209.8 721.4 1208.3C716.1 1206.8 714.5 1206.7 710.4 1205.4C706.3 1204.1 696.0 1200.6 690.8 1198.5C685.6 1196.4 676.3 1192.2 671.1 1189.5C665.9 1186.8 656.0 1180.7 651.6 1178.3C647.2 1175.9 642.7 1173.9 638.3 1171.5C633.9 1169.1 621.3 1164.8 618.7 1160.5C616.1 1156.2 616.1 1141.0 618.7 1139.5Z" fill="#fff" fill-opacity="0.095" filter="url(#q34)"/>
<path d="M556.0 1120.7C557.6 1121.0 564.5 1122.6 568.0 1123.7C571.5 1124.8 577.9 1126.9 582.0 1128.6C586.1 1130.3 594.1 1133.9 599.0 1136.1C603.9 1138.3 613.5 1142.6 618.7 1145.1C623.9 1147.6 633.9 1152.3 638.3 1154.6C642.7 1156.9 647.2 1159.8 651.6 1162.1C656.0 1164.4 665.9 1169.6 671.1 1172.1C676.3 1174.6 685.6 1179.0 690.8 1181.1C696.0 1183.2 706.3 1186.3 710.4 1187.6C714.5 1188.9 716.1 1189.2 721.4 1190.6C726.7 1192.0 743.4 1196.6 749.8 1198.1C756.2 1199.6 763.9 1200.8 769.4 1201.8C774.9 1202.8 784.4 1204.9 791.1 1205.8C797.8 1206.7 810.0 1207.5 819.3 1208.2C828.6 1208.9 850.1 1210.2 860.6 1210.8C871.1 1211.4 888.7 1212.5 898.0 1212.9C907.3 1213.3 925.0 1213.5 930.5 1213.6C936.0 1213.7 937.9 1211.9 939.0 1213.9C940.1 1215.9 940.1 1226.5 939.0 1228.6C937.9 1230.7 936.0 1229.3 930.5 1229.4C925.0 1229.5 907.3 1229.2 898.0 1229.0C888.7 1228.8 871.1 1228.3 860.6 1227.6C850.1 1226.9 828.6 1224.4 819.3 1223.4C810.0 1222.4 797.8 1220.9 791.1 1219.8C784.4 1218.7 774.9 1216.1 769.4 1214.8C763.9 1213.5 756.2 1211.8 749.8 1210.1C743.4 1208.4 726.7 1203.4 721.4 1201.9C716.1 1200.4 714.5 1200.3 710.4 1199.0C706.3 1197.7 696.0 1194.2 690.8 1192.1C685.6 1190.0 676.3 1185.8 671.1 1183.1C665.9 1180.4 656.0 1174.2 651.6 1171.9C647.2 1169.6 642.7 1168.2 638.3 1165.9C633.9 1163.6 623.9 1157.7 618.7 1154.9C613.5 1152.1 603.9 1147.2 599.0 1144.9C594.1 1142.6 586.1 1139.8 582.0 1137.7C577.9 1135.6 571.5 1131.5 568.0 1129.4C564.5 1127.3 557.6 1123.0 556.0 1121.8C554.4 1120.6 554.4 1120.4 556.0 1120.7Z" fill="rgb(255,255,255)" filter="url(#q35)"/>
<path d="M935.0 1212.6L982.0 1211.2L982.5 1212.4L955.0 1216.5L935.0 1219.0Z" fill="rgb(255,255,255)" filter="url(#q36)"/>
<path d="M935.0 1218.0L977.0 1220.2L977.0 1221.4L935.0 1228.5Z" fill="rgb(255,255,255)" filter="url(#q37)"/>
<path d="M933.0 1226.5L998.0 1225.2L998.0 1226.6L933.0 1231.0Z" fill="rgb(102,102,102)" filter="url(#q38)"/>
<path d="M1709.0 1113.6C1710.2 1111.8 1714.4 1109.7 1718.0 1108.6C1721.6 1107.5 1728.9 1106.5 1736.0 1105.6C1743.1 1104.7 1763.3 1102.8 1771.0 1102.1C1778.7 1101.4 1787.9 1100.6 1794.0 1100.1C1800.1 1099.6 1809.5 1098.7 1817.0 1098.1C1824.5 1097.5 1845.6 1092.1 1850.0 1095.6C1854.4 1099.1 1854.4 1119.8 1850.0 1124.4C1845.6 1129.0 1824.5 1128.9 1817.0 1130.2C1809.5 1131.5 1800.1 1133.3 1794.0 1133.9C1787.9 1134.5 1778.7 1135.2 1771.0 1134.9C1763.3 1134.6 1743.1 1132.8 1736.0 1131.9C1728.9 1131.0 1721.6 1129.7 1718.0 1128.4C1714.4 1127.1 1710.2 1124.4 1709.0 1122.4C1707.8 1120.4 1707.8 1115.4 1709.0 1113.6Z" fill="rgb(255,255,255)" filter="url(#q39)"/>
<path d="M1786.0 1130.0L1850.0 1116.5L1850.0 1122.0L1794.0 1134.0Z" fill="rgb(45,45,45)" filter="url(#q40)"/>
</g>
<clipPath id="mzA"><rect x="163" y="767" width="291" height="534.5"/></clipPath>
<filter id="fzA" filterUnits="userSpaceOnUse" x="1" y="712" width="614" height="645" color-interpolation-filters="sRGB">
<feTurbulence type="fractalNoise" baseFrequency="0.012 0.25" numOctaves="2" seed="7"/>
<feColorMatrix type="matrix" values="1 0 0 0 0  0 0 0 0 0.5  0 0 0 0 0  0 0 0 0 1" result="n"/>
<feDisplacementMap in="SourceGraphic" in2="n" scale="26" xChannelSelector="R" yChannelSelector="G" result="d"/>
<feTurbulence type="fractalNoise" baseFrequency="0.045 0.24" numOctaves="2" seed="27"/>
<feColorMatrix type="matrix" values="1 0 0 0 0  1 0 0 0 0  1 0 0 0 0  0 0 0 0 1" result="m"/>
<feComposite in="d" in2="m" operator="arithmetic" k1="10.4" k2="-1.2" k3="0" k4="0"/>
</filter>
<linearGradient id="gzA2" gradientUnits="userSpaceOnUse" x1="426" y1="0" x2="454" y2="0"><stop offset="0" stop-color="#fff" stop-opacity="0"/><stop offset="1" stop-color="#fff" stop-opacity="1"/></linearGradient>
<mask id="mzA2" maskUnits="userSpaceOnUse" x="426" y="767" width="86" height="534.5"><rect x="426" y="767" width="86" height="534.5" fill="url(#gzA2)"/></mask>
<filter id="fzA2" filterUnits="userSpaceOnUse" x="181" y="870" width="576" height="328" color-interpolation-filters="sRGB">
<feTurbulence type="fractalNoise" baseFrequency="0.012 0.25" numOctaves="2" seed="8"/>
<feColorMatrix type="matrix" values="1 0 0 0 0  0 0 0 0 0.5  0 0 0 0 0  0 0 0 0 1" result="n"/>
<feDisplacementMap in="SourceGraphic" in2="n" scale="16" xChannelSelector="R" yChannelSelector="G" result="d"/>
<feTurbulence type="fractalNoise" baseFrequency="0.045 0.24" numOctaves="2" seed="28"/>
<feColorMatrix type="matrix" values="1 0 0 0 0  1 0 0 0 0  1 0 0 0 0  0 0 0 0 1" result="m"/>
<feComposite in="d" in2="m" operator="arithmetic" k1="10.4" k2="-1.2" k3="0" k4="0"/>
</filter>
<linearGradient id="gzA3" gradientUnits="userSpaceOnUse" x1="484" y1="0" x2="512" y2="0"><stop offset="0" stop-color="#fff" stop-opacity="0"/><stop offset="1" stop-color="#fff" stop-opacity="1"/></linearGradient>
<mask id="mzA3" maskUnits="userSpaceOnUse" x="484" y="767" width="90" height="534.5"><rect x="484" y="767" width="90" height="534.5" fill="url(#gzA3)"/></mask>
<filter id="fzA3" filterUnits="userSpaceOnUse" x="237" y="885" width="584" height="299" color-interpolation-filters="sRGB">
<feTurbulence type="fractalNoise" baseFrequency="0.012 0.25" numOctaves="2" seed="5"/>
<feColorMatrix type="matrix" values="1 0 0 0 0  0 0 0 0 0.5  0 0 0 0 0  0 0 0 0 1" result="n"/>
<feDisplacementMap in="SourceGraphic" in2="n" scale="8" xChannelSelector="R" yChannelSelector="G" result="d"/>
<feTurbulence type="fractalNoise" baseFrequency="0.045 0.24" numOctaves="2" seed="25"/>
<feColorMatrix type="matrix" values="1 0 0 0 0  1 0 0 0 0  1 0 0 0 0  0 0 0 0 1" result="m"/>
<feComposite in="d" in2="m" operator="arithmetic" k1="10.4" k2="-1.2" k3="0" k4="0"/>
</filter>
<linearGradient id="gzB" gradientUnits="userSpaceOnUse" x1="546" y1="0" x2="574" y2="0"><stop offset="0" stop-color="#fff" stop-opacity="0"/><stop offset="1" stop-color="#fff" stop-opacity="1"/></linearGradient>
<mask id="mzB" maskUnits="userSpaceOnUse" x="546" y="767" width="168" height="534.5"><rect x="546" y="767" width="168" height="534.5" fill="url(#gzB)"/></mask>
<filter id="fzB" filterUnits="userSpaceOnUse" x="381" y="745" width="498" height="579" color-interpolation-filters="sRGB">
<feTurbulence type="fractalNoise" baseFrequency="0.012 0.25" numOctaves="2" seed="9"/>
<feColorMatrix type="matrix" values="1 0 0 0 0  0 0 0 0 0.5  0 0 0 0 0  0 0 0 0 1" result="n"/>
<feDisplacementMap in="SourceGraphic" in2="n" scale="10" xChannelSelector="R" yChannelSelector="G" result="d"/>
<feTurbulence type="fractalNoise" baseFrequency="0.035 0.24" numOctaves="2" seed="29"/>
<feColorMatrix type="matrix" values="1 0 0 0 0  1 0 0 0 0  1 0 0 0 0  0 0 0 0 1" result="m"/>
<feComposite in="d" in2="m" operator="arithmetic" k1="10.4" k2="-1.2" k3="0" k4="0"/>
</filter>
<linearGradient id="gzB2" gradientUnits="userSpaceOnUse" x1="686" y1="0" x2="714" y2="0"><stop offset="0" stop-color="#fff" stop-opacity="0"/><stop offset="1" stop-color="#fff" stop-opacity="1"/></linearGradient>
<mask id="mzB2" maskUnits="userSpaceOnUse" x="686" y="767" width="178" height="534.5"><rect x="686" y="767" width="178" height="534.5" fill="url(#gzB2)"/></mask>
<filter id="fzB2" filterUnits="userSpaceOnUse" x="600" y="729" width="350" height="610" color-interpolation-filters="sRGB">
<feTurbulence type="fractalNoise" baseFrequency="0.012 0.25" numOctaves="2" seed="4"/>
<feColorMatrix type="matrix" values="1 0 0 0 0  0 0 0 0 0.5  0 0 0 0 0  0 0 0 0 1" result="n"/>
<feDisplacementMap in="SourceGraphic" in2="n" scale="12" xChannelSelector="R" yChannelSelector="G" result="d"/>
<feTurbulence type="fractalNoise" baseFrequency="0.03 0.25" numOctaves="2" seed="24"/>
<feColorMatrix type="matrix" values="1 0 0 0 0  1 0 0 0 0  1 0 0 0 0  0 0 0 0 1" result="m"/>
<feComposite in="d" in2="m" operator="arithmetic" k1="10.4" k2="-1.2" k3="0" k4="0"/>
</filter>
<linearGradient id="gzC" gradientUnits="userSpaceOnUse" x1="836" y1="0" x2="864" y2="0"><stop offset="0" stop-color="#fff" stop-opacity="0"/><stop offset="1" stop-color="#fff" stop-opacity="1"/></linearGradient>
<mask id="mzC" maskUnits="userSpaceOnUse" x="836" y="767" width="578" height="534.5"><rect x="836" y="767" width="578" height="534.5" fill="url(#gzC)"/></mask>
<filter id="fzC" filterUnits="userSpaceOnUse" x="812" y="743" width="626" height="582" color-interpolation-filters="sRGB">
<feTurbulence type="fractalNoise" baseFrequency="0.01 0.3" numOctaves="2" seed="11"/>
<feColorMatrix type="matrix" values="1 0 0 0 0  0 0 0 0 0.5  0 0 0 0 0  0 0 0 0 1" result="n"/>
<feDisplacementMap in="SourceGraphic" in2="n" scale="30" xChannelSelector="R" yChannelSelector="G" result="d"/>
<feTurbulence type="fractalNoise" baseFrequency="0.02 0.3" numOctaves="2" seed="31"/>
<feColorMatrix type="matrix" values="1 0 0 0 0  1 0 0 0 0  1 0 0 0 0  0 0 0 0 1" result="m"/>
<feComposite in="d" in2="m" operator="arithmetic" k1="10.4" k2="-1.2" k3="0" k4="0"/>
</filter>
<linearGradient id="gzD" gradientUnits="userSpaceOnUse" x1="1386" y1="0" x2="1414" y2="0"><stop offset="0" stop-color="#fff" stop-opacity="0"/><stop offset="1" stop-color="#fff" stop-opacity="1"/></linearGradient>
<mask id="mzD" maskUnits="userSpaceOnUse" x="1386" y="767" width="451" height="534.5"><rect x="1386" y="767" width="451" height="534.5" fill="url(#gzD)"/></mask>
<filter id="fzD" filterUnits="userSpaceOnUse" x="1335" y="721" width="552" height="627" color-interpolation-filters="sRGB">
<feTurbulence type="fractalNoise" baseFrequency="0.01 0.3" numOctaves="2" seed="13"/>
<feColorMatrix type="matrix" values="1 0 0 0 0  0 0 0 0 0.5  0 0 0 0 0  0 0 0 0 1" result="n"/>
<feDisplacementMap in="SourceGraphic" in2="n" scale="26" xChannelSelector="R" yChannelSelector="G" result="d"/>
<feTurbulence type="fractalNoise" baseFrequency="0.02 0.3" numOctaves="2" seed="33"/>
<feColorMatrix type="matrix" values="1 0 0 0 0  1 0 0 0 0  1 0 0 0 0  0 0 0 0 1" result="m"/>
<feComposite in="d" in2="m" operator="arithmetic" k1="8" k2="0" k3="0" k4="0"/>
</filter>
</defs>
<g clip-path="url(#cpA)"><g filter="url(#cmap)">
<rect x="158" y="762" width="1684" height="544.5" fill="#000"/>
<g clip-path="url(#mzA)"><g transform="rotate(-40 308.5 1034.2)" filter="url(#fzA)"><use href="#field" transform="rotate(40 308.5 1034.2)"/></g></g>
<g mask="url(#mzA2)"><g transform="rotate(-68 469.0 1034.2)" filter="url(#fzA2)"><use href="#field" transform="rotate(68 469.0 1034.2)"/></g></g>
<g mask="url(#mzA3)"><g transform="rotate(72 529.0 1034.2)" filter="url(#fzA3)"><use href="#field" transform="rotate(-72 529.0 1034.2)"/></g></g>
<g mask="url(#mzB)"><g transform="rotate(36 630.0 1034.2)" filter="url(#fzB)"><use href="#field" transform="rotate(-36 630.0 1034.2)"/></g></g>
<g mask="url(#mzB2)"><g transform="rotate(14 775.0 1034.2)" filter="url(#fzB2)"><use href="#field" transform="rotate(-14 775.0 1034.2)"/></g></g>
<g mask="url(#mzC)"><g transform="rotate(0 1125.0 1034.2)" filter="url(#fzC)"><use href="#field" transform="rotate(0 1125.0 1034.2)"/></g></g>
<g mask="url(#mzD)"><g transform="rotate(-6 1611.5 1034.2)" filter="url(#fzD)"><use href="#field" transform="rotate(6 1611.5 1034.2)"/></g></g>
<path d="M163 1289.6L330 1291L486 1293L640 1291.2L800 1290.4L1000 1289.6H1837V1303H163Z" fill="#000"/>
</g></g>
<path d="M163.9 820.43H1837M163.9 873.86H1837M163.9 927.29H1837M163.9 980.72H1837M163.9 1034.15H1837M163.9 1087.58H1837M163.9 1141.01H1837M163.9 1194.44H1837M163.9 1247.87H1837" stroke="#fff" stroke-width="3" stroke-dasharray="3 8.023" fill="none"/>
<clipPath id="cp700"><rect x="163" y="767.00" width="1674" height="534.30"/></clipPath>
<path clip-path="url(#cp700)" d="M164.00 768.80V1301.30M233.68 768.80V1301.30M303.36 768.80V1301.30M373.04 768.80V1301.30M442.72 768.80V1301.30M512.40 768.80V1301.30M582.08 768.80V1301.30M651.75 768.80V1301.30M721.43 768.80V1301.30M791.11 768.80V1301.30M860.79 768.80V1301.30M930.47 768.80V1301.30M1000.15 768.80V1301.30M1069.83 768.80V1301.30M1139.51 768.80V1301.30M1209.19 768.80V1301.30M1278.87 768.80V1301.30M1348.55 768.80V1301.30M1418.22 768.80V1301.30M1487.90 768.80V1301.30M1557.58 768.80V1301.30M1627.26 768.80V1301.30M1696.94 768.80V1301.30M1766.62 768.80V1301.30M1836.30 768.80V1301.30" stroke="#fff" stroke-width="3" stroke-dasharray="3 8.03" fill="none"/>
<path d="M486.4 781.10V1301.30" stroke="#1266d6" stroke-width="3.2" stroke-dasharray="15.8 15.72" fill="none"/>
<path d="M138.2 1301.30H1837M138.2 767.30H163.5M151.3 777.69H163.5M151.3 788.37H163.5M151.3 799.06H163.5M151.3 809.74H163.5M151.3 820.43H163.5M151.3 831.12H163.5M151.3 841.80H163.5M151.3 852.49H163.5M151.3 863.17H163.5M138.2 873.86H163.5M151.3 884.55H163.5M151.3 895.23H163.5M151.3 905.92H163.5M151.3 916.60H163.5M151.3 927.29H163.5M151.3 937.98H163.5M151.3 948.66H163.5M151.3 959.35H163.5M151.3 970.03H163.5M138.2 980.72H163.5M151.3 991.41H163.5M151.3 1002.09H163.5M151.3 1012.78H163.5M151.3 1023.46H163.5M151.3 1034.15H163.5M151.3 1044.84H163.5M151.3 1055.52H163.5M151.3 1066.21H163.5M151.3 1076.89H163.5M138.2 1087.58H163.5M151.3 1098.27H163.5M151.3 1108.95H163.5M151.3 1119.64H163.5M151.3 1130.32H163.5M151.3 1141.01H163.5M151.3 1151.70H163.5M151.3 1162.38H163.5M151.3 1173.07H163.5M151.3 1183.75H163.5M138.2 1194.44H163.5M151.3 1205.13H163.5M151.3 1215.81H163.5M151.3 1226.50H163.5M151.3 1237.18H163.5M151.3 1247.87H163.5M151.3 1258.56H163.5M151.3 1269.24H163.5M151.3 1279.93H163.5M151.3 1290.61H163.5M164.00 1301.30V1309.00M233.68 1301.30V1305.30M303.36 1301.30V1305.30M373.04 1301.30V1305.30M442.72 1301.30V1305.30M512.40 1301.30V1305.30M582.08 1301.30V1309.00M651.75 1301.30V1305.30M721.43 1301.30V1305.30M791.11 1301.30V1305.30M860.79 1301.30V1305.30M930.47 1301.30V1305.30M1000.15 1301.30V1309.00M1069.83 1301.30V1305.30M1139.51 1301.30V1305.30M1209.19 1301.30V1305.30M1278.87 1301.30V1305.30M1348.55 1301.30V1305.30M1418.22 1301.30V1309.00M1487.90 1301.30V1305.30M1557.58 1301.30V1305.30M1627.26 1301.30V1305.30M1696.94 1301.30V1305.30M1766.62 1301.30V1305.30M1836.30 1301.30V1309.00" stroke="#000" stroke-width="1.1" fill="none"/>
<text transform="translate(999.90 751.00) scale(0.9525 1)" font-size="43.7" text-anchor="middle">Southern hemisphere</text>
<text transform="translate(129.30 789.60) scale(0.9120 1)" font-size="40.0" text-anchor="end">-40</text>
<text transform="translate(129.30 886.46) scale(0.9120 1)" font-size="40.0" text-anchor="end">-50</text>
<text transform="translate(129.30 993.32) scale(0.9120 1)" font-size="40.0" text-anchor="end">-60</text>
<text transform="translate(129.30 1100.18) scale(0.9120 1)" font-size="40.0" text-anchor="end">-70</text>
<text transform="translate(129.30 1207.04) scale(0.9120 1)" font-size="40.0" text-anchor="end">-80</text>
<text transform="translate(129.30 1301.50) scale(0.9120 1)" font-size="40.0" text-anchor="end">-90</text>
<text transform="translate(164.00 1356.30) scale(0.9120 1)" font-size="40.0" text-anchor="middle">0</text>
<text transform="translate(582.08 1356.30) scale(0.9120 1)" font-size="40.0" text-anchor="middle">90</text>
<text transform="translate(1000.15 1356.30) scale(0.9120 1)" font-size="40.0" text-anchor="middle">180</text>
<text transform="translate(1418.22 1356.30) scale(0.9120 1)" font-size="40.0" text-anchor="middle">270</text>
<text transform="translate(1836.30 1356.30) scale(0.9120 1)" font-size="40.0" text-anchor="middle">360</text>
<text transform="translate(864.90 1395.30) scale(0.9400 1)" font-size="39.1">SIII Longitude <tspan x="252.31" font-size="37.8">(</tspan><tspan x="263.19" dy="-3.9" font-size="32.0">°</tspan><tspan x="274.63" dy="3.9" font-size="37.8">)</tspan></text>
<text transform="translate(47.20 1120.90) rotate(-90) scale(0.9400 1)" font-size="39.1">Latitude <tspan x="149.22" font-size="37.8">(</tspan><tspan x="160.85" dy="-3.9" font-size="32.0">°</tspan><tspan x="172.39" dy="3.9" font-size="37.8">)</tspan></text>
</g>
<g id="colorbar">
<defs><linearGradient id="cb" x1="0" y1="1" x2="0" y2="0">
<stop offset="0.000" stop-color="#000000"/>
<stop offset="0.100" stop-color="#000018"/>
<stop offset="0.200" stop-color="#000036"/>
<stop offset="0.300" stop-color="#00005a"/>
<stop offset="0.400" stop-color="#00007c"/>
<stop offset="0.470" stop-color="#000a92"/>
<stop offset="0.550" stop-color="#0030b4"/>
<stop offset="0.630" stop-color="#0058d6"/>
<stop offset="0.720" stop-color="#007ef0"/>
<stop offset="0.790" stop-color="#0a98ff"/>
<stop offset="0.850" stop-color="#4ab2ff"/>
<stop offset="0.900" stop-color="#8cceff"/>
<stop offset="0.950" stop-color="#c8e8ff"/>
<stop offset="1.000" stop-color="#ffffff"/>
</linearGradient></defs>
<rect x="1851.2" y="1090.1" width="37.6" height="209.3" fill="url(#cb)" stroke="#000" stroke-width="2"/>
<path d="M1852 1293.38h1.6M1888 1293.38h-1.6M1852 1286.37h1.6M1888 1286.37h-1.6M1852 1279.35h1.6M1888 1279.35h-1.6M1852 1272.33h3.2M1888 1272.33h-3.2M1852 1265.31h1.6M1888 1265.31h-1.6M1852 1258.30h1.6M1888 1258.30h-1.6M1852 1251.28h1.6M1888 1251.28h-1.6M1852 1244.26h3.2M1888 1244.26h-3.2M1852 1237.24h1.6M1888 1237.24h-1.6M1852 1230.23h1.6M1888 1230.23h-1.6M1852 1223.21h1.6M1888 1223.21h-1.6M1852 1216.19h3.2M1888 1216.19h-3.2M1852 1209.17h1.6M1888 1209.17h-1.6M1852 1202.16h1.6M1888 1202.16h-1.6M1852 1195.14h1.6M1888 1195.14h-1.6M1852 1188.12h3.2M1888 1188.12h-3.2M1852 1181.10h1.6M1888 1181.10h-1.6M1852 1174.09h1.6M1888 1174.09h-1.6M1852 1167.07h1.6M1888 1167.07h-1.6M1852 1160.05h3.2M1888 1160.05h-3.2M1852 1153.03h1.6M1888 1153.03h-1.6M1852 1146.02h1.6M1888 1146.02h-1.6M1852 1139.00h1.6M1888 1139.00h-1.6M1852 1131.98h3.2M1888 1131.98h-3.2M1852 1124.96h1.6M1888 1124.96h-1.6M1852 1117.95h1.6M1888 1117.95h-1.6M1852 1110.93h1.6M1888 1110.93h-1.6M1852 1103.91h3.2M1888 1103.91h-3.2M1852 1096.89h1.6M1888 1096.89h-1.6M1860.60 1091v1.6M1870.00 1091v1.6M1879.40 1091v1.6" stroke="#000" stroke-width="1.3" fill="none"/>
<text transform="translate(1898.80 1283.03) scale(0.8850 1)" font-size="33.0">200</text>
<text transform="translate(1898.80 1254.96) scale(0.8850 1)" font-size="33.0">400</text>
<text transform="translate(1898.80 1226.89) scale(0.8850 1)" font-size="33.0">600</text>
<text transform="translate(1898.80 1198.82) scale(0.8850 1)" font-size="33.0">800</text>
<text transform="translate(1898.80 1170.75) scale(0.8850 1)" font-size="33.0">1000</text>
<text transform="translate(1898.80 1142.68) scale(0.8850 1)" font-size="33.0">1200</text>
<text transform="translate(1898.80 1114.61) scale(0.8850 1)" font-size="33.0">1400</text>
<text transform="translate(1837.20 1077.90) scale(0.9140 1)" font-size="32.3">kR H<tspan font-size="13.5" dx="0.3" dy="3.9">2</tspan></text>
</g>
</svg>
</body></html>
